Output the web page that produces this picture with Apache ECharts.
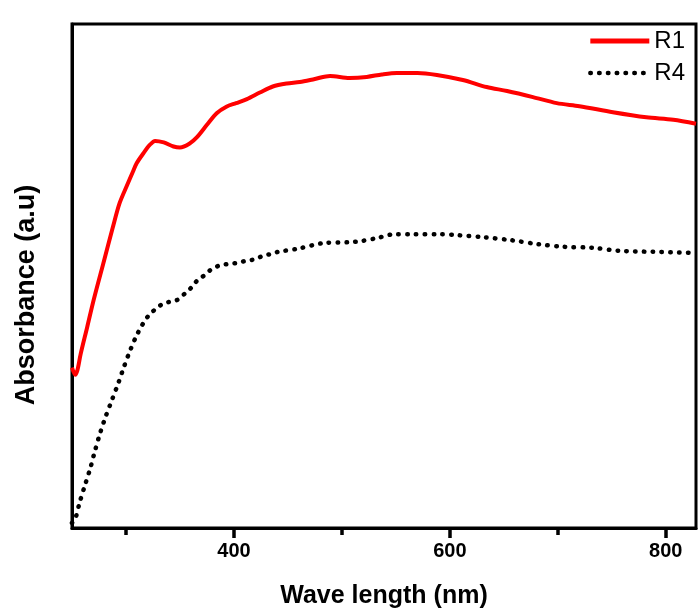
<!DOCTYPE html>
<html>
<head>
    <meta charset="utf-8">
    <title>absorbance</title>
    <style type="text/css">
        * {
            margin: 0;
            padding: 0;
        }

        #chart {
            width: 698px;
            height: 614px;
            background: #fff;
        }
    </style>
</head>
<body>

<div id="chart"></div>

<script src="https://cdn.jsdelivr.net/npm/echarts@6/dist/echarts.min.js"></script>
<script type="text/javascript">

    // R1 (red, solid)
    let r1Wave = [250, 253, 255, 258, 264, 270, 279, 288, 294, 301, 306, 310, 316, 322, 327, 335, 344, 350, 359, 366,
        375, 384, 393, 402, 412, 424, 436, 449, 461, 475, 489, 507, 523, 537, 551, 570, 588, 612, 634, 653,
        677, 699, 720, 751, 782, 807, 828];
    let r1Abs = [0.318, 0.304, 0.313, 0.345, 0.398, 0.452, 0.525, 0.598, 0.644, 0.680, 0.705, 0.724, 0.743, 0.760, 0.768, 0.765, 0.757, 0.755, 0.763, 0.776,
        0.800, 0.823, 0.836, 0.843, 0.851, 0.864, 0.876, 0.882, 0.885, 0.891, 0.897, 0.893, 0.895, 0.900, 0.903, 0.903, 0.899, 0.889, 0.875, 0.867,
        0.855, 0.843, 0.837, 0.825, 0.815, 0.810, 0.802];

    // R4 (black, dotted)
    let r4Wave = [250, 253, 257, 262, 267, 271, 276, 281, 287, 293, 298, 304, 311, 320, 332, 339, 347, 355, 361, 366,
        373, 379, 387, 395, 403, 411, 419, 427, 435, 441, 459, 482, 507, 517, 532, 549, 566, 591, 607, 631,
        657, 682, 705, 732, 757, 788, 828];
    let r4Abs = [0.010, 0.018, 0.050, 0.085, 0.119, 0.151, 0.188, 0.220, 0.254, 0.288, 0.319, 0.353, 0.387, 0.419, 0.442, 0.448, 0.452, 0.466, 0.478, 0.491,
        0.502, 0.513, 0.521, 0.524, 0.526, 0.530, 0.533, 0.540, 0.544, 0.548, 0.554, 0.565, 0.567, 0.569, 0.575, 0.583, 0.583, 0.583, 0.581, 0.577,
        0.571, 0.563, 0.558, 0.556, 0.550, 0.548, 0.546];

    let majorTicks = [400, 600, 800];
    let minorTicks = [300, 500, 700];

    let fontFamily = '"Liberation Sans", Arial, sans-serif';

    function pairs(xs, ys) {
        return xs.map(function (x, i) { return [x, ys[i]]; });
    }

    var myChart = echarts.init(document.getElementById('chart'));

    var option = {
        backgroundColor: '#fff',
        animation: false,
        grid: {
            left: 72,
            right: 2,
            top: 24,
            bottom: 86,
            show: true,
            borderColor: '#000',
            borderWidth: 3
        },
        legend: {
            orient: 'vertical',
            right: 8,
            top: 24,
            itemWidth: 59,
            itemHeight: 14,
            itemGap: 8,
            itemStyle: {color: 'transparent', borderWidth: 0, opacity: 0},
            textStyle: {
                fontFamily: fontFamily,
                fontSize: 24,
                color: '#000'
            },
            data: [
                {name: 'R1', lineStyle: {color: '#ff0000', width: 5}},
                {name: 'R4', lineStyle: {color: '#000', width: 4.5, type: [0.5, 8.3], cap: 'round'}}
            ]
        },
        xAxis: [
            {
                type: 'value',
                min: 250,
                max: 828,
                name: 'Wave length (nm)',
                nameLocation: 'middle',
                nameGap: 56,
                nameTextStyle: {
                    fontFamily: fontFamily,
                    fontSize: 25,
                    fontWeight: 'bold',
                    color: '#000'
                },
                axisLine: {lineStyle: {color: '#000', width: 3}},
                axisTick: {
                    customValues: majorTicks,
                    length: 10,
                    lineStyle: {color: '#000', width: 3.5}
                },
                axisLabel: {
                    customValues: majorTicks,
                    margin: 13,
                    fontFamily: fontFamily,
                    fontSize: 20,
                    fontWeight: 'bold',
                    color: '#000'
                },
                splitLine: {show: false}
            },
            {
                type: 'value',
                min: 250,
                max: 828,
                position: 'bottom',
                axisLine: {show: false},
                axisTick: {
                    customValues: minorTicks,
                    length: 7,
                    lineStyle: {color: '#000', width: 3.5}
                },
                axisLabel: {show: false},
                splitLine: {show: false}
            }
        ],
        yAxis: {
            type: 'value',
            min: 0,
            max: 1,
            name: 'Absorbance (a.u)',
            nameLocation: 'middle',
            nameGap: 32,
            nameTextStyle: {
                fontFamily: fontFamily,
                fontSize: 27,
                fontWeight: 'bold',
                color: '#000',
                padding: [0, 38, 0, 0]
            },
            axisLine: {lineStyle: {color: '#000', width: 3}},
            axisTick: {show: false},
            axisLabel: {show: false},
            splitLine: {show: false}
        },
        series: [
            {
                name: 'R1',
                type: 'line',
                smooth: 0.3,
                symbol: 'none',
                lineStyle: {color: '#ff0000', width: 4},
                itemStyle: {color: '#ff0000'},
                data: pairs(r1Wave, r1Abs)
            },
            {
                name: 'R4',
                type: 'line',
                smooth: 0.3,
                symbol: 'none',
                lineStyle: {color: '#000', width: 4.5, type: [0.5, 8.3], cap: 'round'},
                itemStyle: {color: '#000'},
                data: pairs(r4Wave, r4Abs)
            }
        ]
    };

    myChart.setOption(option);
</script>
</body>
</html>
